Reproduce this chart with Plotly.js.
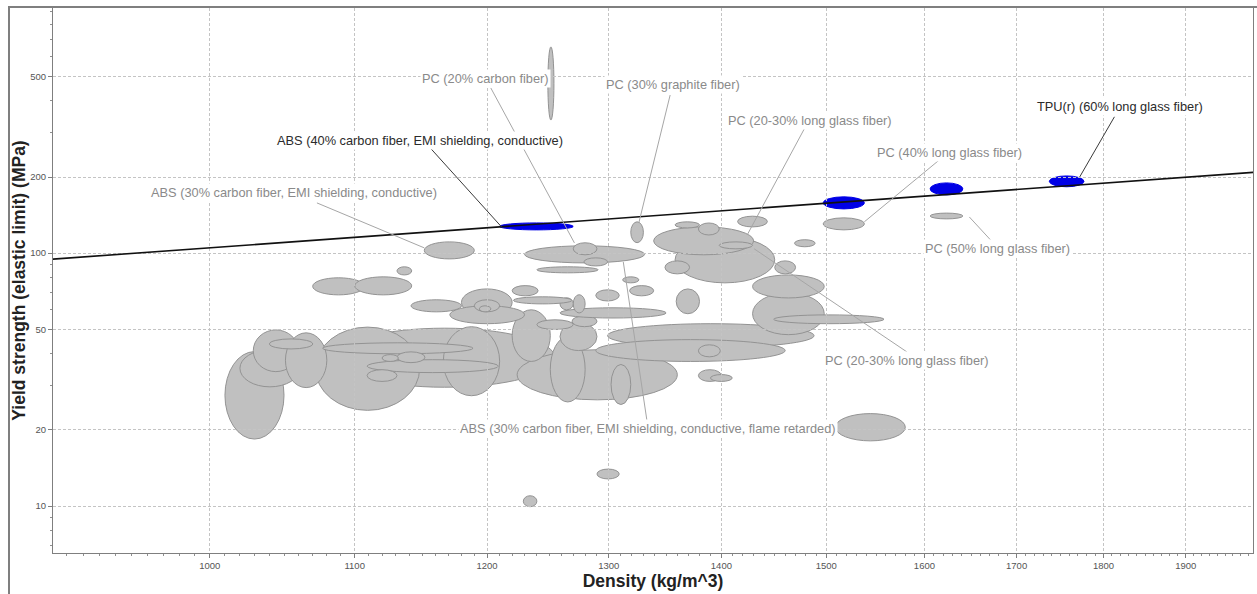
<!DOCTYPE html>
<html><head><meta charset="utf-8">
<script src="https://cdn.plot.ly/plotly-3.0.1.min.js"></script>
<style>
html,body{margin:0;padding:0;background:#fff;}
#chart{position:absolute;left:0;top:0;width:1257px;height:594px;}
#frame{position:absolute;left:8px;top:6px;width:1300px;height:620px;border-left:2px solid #7f7f7f;border-top:2px solid #7f7f7f;pointer-events:none;}
</style></head><body>
<div id="chart"></div><div id="frame"></div>
<script>
// ---- Grey material bubbles (density kg/m^3, yield strength MPa) ----
const greyDensityLow  = [1085,1072,1224,1299,1289,1010,1020,1029,1051,1040,1166,1077,1109,1131,1120,1109,1251,1302,1379,1379,1390,1259,1269,1220,1240,1259,1270,1259,1221,1220,1289,1318,1312,1240,1230,1270,1279,1319,1249,1358,1339,1358,1379,1398,1415,1469,1349,1450,1429,1429,1449,1359,1151.5,1131,1070,1100,1141.5,1180,1171,1190,1194,1606,1497,1509,1290,1229];
const greyDensityHigh = [1255,1148,1360,1488,1460,1050,1061,1060,1080,1070,1210,1189,1209,1152,1132,1131,1280,1319,1399,1400,1410,1290,1290,1251,1270,1350,1280,1270,1269,1241,1309,1339,1326,1291,1331,1290,1299,1330,1254,1450,1430,1380,1398,1429,1443,1489,1371,1470,1498,1498,1558,1380,1190,1142,1107,1142,1180,1220,1230,1210,1203,1641,1538,1580,1309,1240];
const greyStrengthLow  = [29.5,23.9,26.3,42.3,37.3,18.4,29.6,34.0,29.4,41.8,27.3,40.0,33.7,36.9,37.3,31.1,25.8,25.2,38.9,31.1,31.1,41.2,51.2,37.3,49.9,55.4,58.0,59.7,63.0,67.8,64.7,67.8,76.3,83.6,91.5,98.5,89.0,110,336,76.3,98.5,125.8,118,104,127,106,82.8,82.8,47.6,66.5,52.6,57.6,94.9,82.0,68.4,68.4,58.6,56.5,52.6,58.6,58.6,136.6,123.6,18.1,12.8,9.94];
const greyStrengthHigh = [50.5,51.0,41.5,52.6,45.5,40.8,41.5,49.7,48.4,45.8,51.2,44.2,37.9,40.7,39.7,34.6,46.7,36.3,43.4,34.6,33.1,53.1,56.5,59.7,54.5,60.8,68.5,66.6,67.2,74.4,71.6,74.4,80.6,88.3,106.9,109.9,95.8,133,654,116,127,133,131.6,110.8,140,113,93.2,93.2,69.7,82.0,57.0,72.2,110.8,88.3,79.9,80.6,65.4,72.2,61.9,65.4,61.9,144,137.9,23.2,14.0,10.98];

// ---- Highlighted (blue) materials ----
const blueNames        = ["ABS (40% carbon fiber, EMI shielding, conductive)","PC (40% long glass fiber) hi","PC (50% long glass fiber) hi","TPU(r) (60% long glass fiber)"];
const blueDensityLow   = [1210,1497,1606,1737];
const blueDensityHigh  = [1270,1538,1641,1777];
const blueStrengthLow  = [123.6,149.6,170,183];
const blueStrengthHigh = [131.7,167,189.6,202];

// ---- Guide line (strength / density = const) ----
const guideDensity  = [900, 1990];
const guideStrength = [94.5, 209];

// ---- Labels and leader lines ----
const labelText = [
  "ABS (40% carbon fiber, EMI shielding, conductive)",
  "ABS (30% carbon fiber, EMI shielding, conductive)",
  "PC (20% carbon fiber)",
  "PC (30% graphite fiber)",
  "PC (20-30% long glass fiber)",
  "PC (40% long glass fiber)",
  "TPU(r) (60% long glass fiber)",
  "PC (50% long glass fiber)",
  "PC (20-30% long glass fiber)",
  "ABS (30% carbon fiber, EMI shielding, conductive, flame retarded)"
];
const labelDark     = [true,false,false,false,false,false,true,false,false,false];
const labelDensity  = [1148,1057,1199,1356,1484,1626.6,1820,1679,1581.6,1334];
const labelStrength = [280,173,489,463,336,251,379,104,37.5,20.2];
const leaderFromDensity  = [1156,1073,1203,1353.6,1479,1616,1813,1671,1430.5,1333];
const leaderFromStrength = [260.7,158,450,422,313,234,346,112.9,104,21.9];
const leaderToDensity    = [1211.5,1151.5,1271,1326,1424,1538,1772,1648,1581.6,1312.5];
const leaderToStrength   = [127,104.9,109.8,131.7,118.1,133,200,139,40.7,92.4];

const FONT = "Arial, 'Liberation Sans', sans-serif";
const shapes = [];
for (let i = 0; i < greyDensityLow.length; i++) {
  shapes.push({type:'circle', xref:'x', yref:'y', layer:'below',
    x0:greyDensityLow[i], x1:greyDensityHigh[i], y0:greyStrengthLow[i], y1:greyStrengthHigh[i],
    fillcolor:'#c0c0c0', line:{color:'#939393', width:1}});
}
for (let i = 0; i < blueDensityLow.length; i++) {
  shapes.push({type:'circle', xref:'x', yref:'y', layer:'below',
    x0:blueDensityLow[i], x1:blueDensityHigh[i], y0:blueStrengthLow[i], y1:blueStrengthHigh[i],
    fillcolor:'#0000e6', line:{color:'#0000e6', width:1}});
}
for (let i = 0; i < labelText.length; i++) {
  shapes.push({type:'line', xref:'x', yref:'y', layer:'above',
    x0:leaderFromDensity[i], y0:leaderFromStrength[i], x1:leaderToDensity[i], y1:leaderToStrength[i],
    line:{color: labelDark[i] ? '#3a3a3a' : '#a6a6a6', width:1}});
}
const annotations = labelText.map((t, i) => ({
  x: Math.log10(labelDensity[i]), y: Math.log10(labelStrength[i]), xref:'x', yref:'y',
  text: t, showarrow:false, xanchor:'center', yanchor:'middle',
  bgcolor:'#ffffff', borderpad:1,
  font:{family:FONT, size:12.8, color: labelDark[i] ? '#2b2b2b' : '#8a8a8a'}
}));

const xMajor = [1000,1100,1200,1300,1400,1500,1600,1700,1800,1900];
const xMinor = [];
for (let v = 910; v < 1990; v += 10) if (v % 100 !== 0) xMinor.push(v);
const yMajor = [10,20,50,100,200,500];
const yMinor = [7,8,9,30,40,60,70,80,90,300,400,600,700,800,900];

const traces = [{
  type:'scatter', mode:'lines', x:guideDensity, y:guideStrength,
  line:{color:'#111111', width:1.6}, hoverinfo:'skip', showlegend:false
}];

const layout = {
  width:1257, height:594,
  margin:{l:53, r:4, t:8, b:41},
  paper_bgcolor:'#ffffff', plot_bgcolor:'#ffffff',
  showlegend:false,
  font:{family:FONT},
  xaxis:{
    type:'log', range:[Math.log10(902), Math.log10(1986)],
    tickmode:'array', tickvals:xMajor, ticktext:xMajor.map(String),
    tickfont:{size:9.5, color:'#555555', family:FONT},
    ticks:'outside', ticklen:4, tickcolor:'#7f7f7f',
    showgrid:true, gridcolor:'#c4c4c4', griddash:'3px,2px', gridwidth:1,
    showline:true, linecolor:'#7f7f7f', linewidth:1, mirror:true, zeroline:false,
    minor:{tickmode:'array', tickvals:xMinor, ticks:'outside', ticklen:2, tickcolor:'#8f8f8f', showgrid:false},
    title:{text:'<b>Density (kg/m^3)</b>', font:{size:17.5, color:'#222222', family:FONT}, standoff:2}
  },
  yaxis:{
    type:'log', range:[Math.log10(6.52), Math.log10(932)],
    tickmode:'array', tickvals:yMajor, ticktext:yMajor.map(String),
    tickfont:{size:9.5, color:'#555555', family:FONT},
    ticks:'outside', ticklen:4, tickcolor:'#7f7f7f',
    showgrid:true, gridcolor:'#c4c4c4', griddash:'3px,2px', gridwidth:1,
    showline:true, linecolor:'#7f7f7f', linewidth:1, mirror:true, zeroline:false,
    minor:{tickmode:'array', tickvals:yMinor, ticks:'outside', ticklen:2, tickcolor:'#8f8f8f', showgrid:false},
    title:{text:'<b>Yield strength (elastic limit) (MPa)</b>', font:{size:17.5, color:'#222222', family:FONT}, standoff:0}
  },
  shapes: shapes,
  annotations: annotations
};
Plotly.newPlot('chart', traces, layout, {staticPlot:true, displayModeBar:false});
</script>
</body></html>
